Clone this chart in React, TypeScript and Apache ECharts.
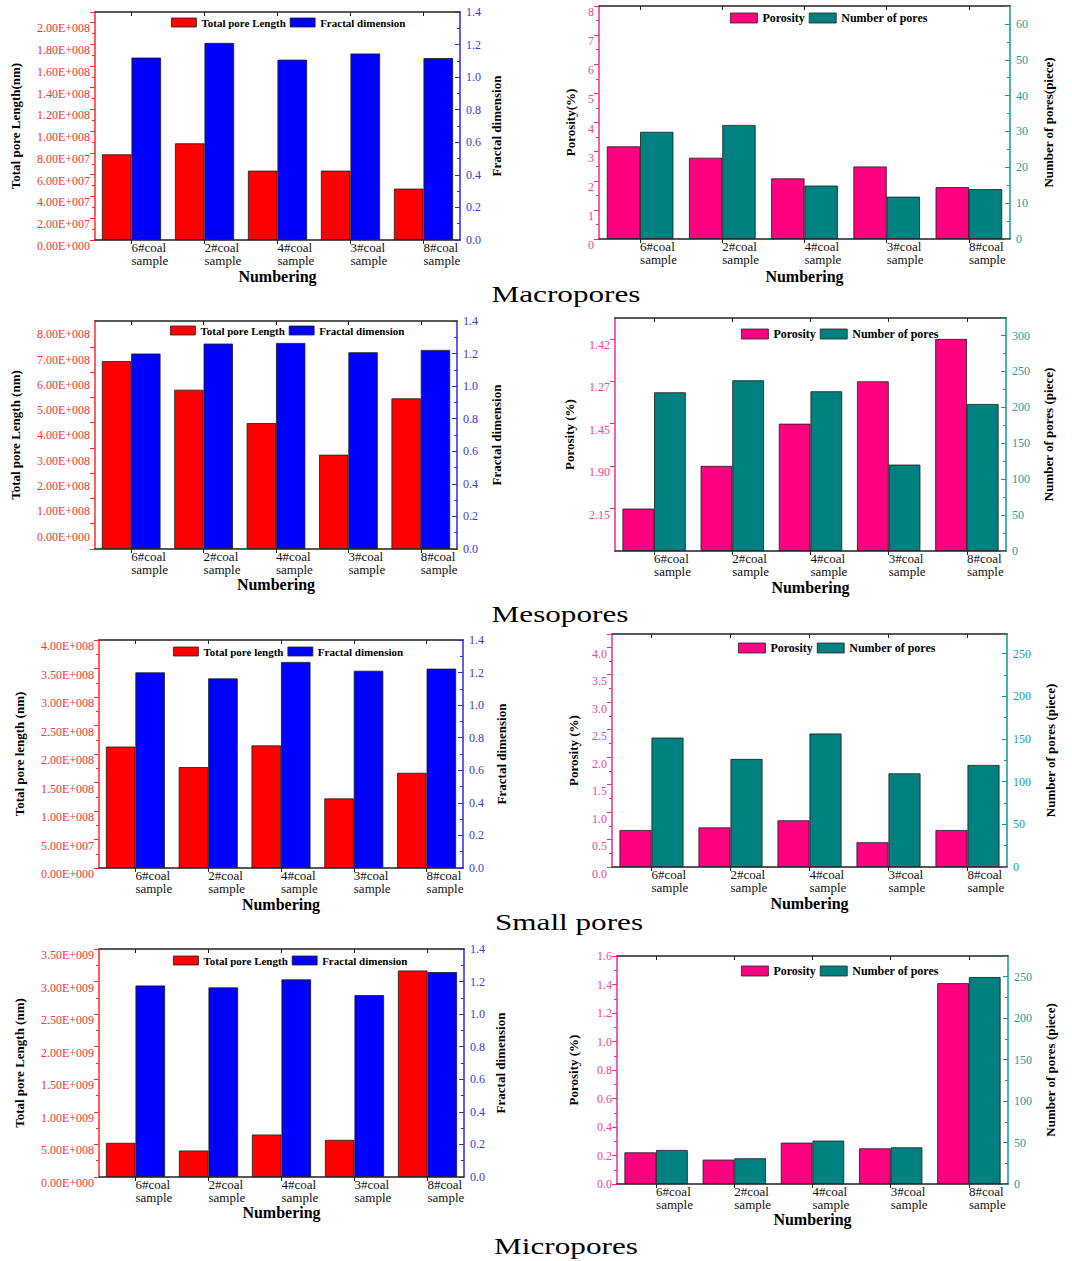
import React, { useEffect, useRef } from 'react';
import * as echarts from 'echarts';

// ---------- data ----------
const categories = ['6#coal\nsample', '2#coal\nsample', '4#coal\nsample', '3#coal\nsample', '8#coal\nsample'];

// Macropores
const macroLength = [7.87e7, 8.88e7, 6.37e7, 6.37e7, 4.72e7];
const macroFractal = [1.12, 1.21, 1.107, 1.145, 1.117];
const macroPorosity = [3.18, 2.79, 2.08, 2.49, 1.78];
const macroPores = [29.9, 31.8, 14.9, 11.8, 13.9];

// Mesopores
const mesoLength = [7.43e8, 6.3e8, 4.98e8, 3.73e8, 5.96e8];
const mesoLengthTicks = [0, 1e8, 2e8, 3e8, 4e8, 5e8, 6e8, 7e8, 8e8];
const mesoFractal = [1.2, 1.261, 1.265, 1.208, 1.222];
const mesoPorosity = [0.291, 0.584, 0.874, 1.165, 1.456];
const mesoPorosityTickValues = [0.291, 0.584, 0.874, 1.165, 1.456];
const mesoPorosityTickLabels = ['2.15', '1.90', '1.45', '1.27', '1.42'];
const mesoPores = [221, 237.7, 222.4, 120.3, 204.7];

// Small pores
const smallLength = [2.13e8, 1.77e8, 2.15e8, 1.22e8, 1.67e8];
const smallFractal = [1.201, 1.164, 1.265, 1.211, 1.224];
const smallPorosity = [0.673, 0.72, 0.85, 0.45, 0.673];
const smallPores = [151.6, 126.6, 156.4, 109.7, 119.5];

// Micropores
const microLength = [5.24e8, 4.06e8, 6.52e8, 5.7e8, 3.17e9];
const microFractal = [1.176, 1.164, 1.213, 1.117, 1.258];
const microPorosity = [0.222, 0.171, 0.29, 0.25, 1.409];
const microPores = [41, 31, 52.3, 44.2, 249.6];

const panelTitles = ['Macropores', 'Mesopores', 'Small pores', 'Micropores'];

// ---------- styles ----------
const FONT = '"Liberation Serif", "Times New Roman", Times, serif';
const RED = '#ff0000';
const BLUE = '#0000ff';
const PINK = '#ff0080';
const TEAL = '#008080';
const RED_AXIS = '#ff2a2a';
const RED_LABEL = '#f23636';
const BLUE_AXIS = '#2a2ae0';
const BLUE_LABEL = '#3a3ad6';
const PINK_AXIS = '#ec2f86';
const PINK_LABEL = '#f0468f';
const TEAL_AXIS = '#0f9a92';
const TEAL_LABEL = '#1a9e9a';

function sci(v: number): string {
  if (Math.abs(v) < 1e-9) return '0.00E+000';
  const e = Math.floor(Math.log10(Math.abs(v)) + 1e-9);
  const m = v / Math.pow(10, e);
  return m.toFixed(2) + 'E+' + String(e).padStart(3, '0');
}

function isMultiple(max: number, interval: number) {
  const r = max / interval;
  return Math.abs(r - Math.round(r)) < 1e-6;
}

interface VAxisOpt {
  gridIndex: number;
  position: 'left' | 'right';
  max: number;
  interval?: number;
  axisColor: string;
  labelColor: string;
  name: string;
  nameGap: number;
  shift: number;
  formatter: (v: number) => string;
  customValues?: number[];
  margin: number;
}

function valueAxis(o: VAxisOpt): any {
  const inside = o.position === 'right';
  const label: any = {
    show: true,
    color: o.labelColor,
    fontFamily: FONT,
    fontSize: 12,
    margin: o.margin,
    formatter: o.formatter,
    hideOverlap: false,
    showMinLabel: true,
  };
  // labels of the reference sit slightly off their ticks
  if (o.shift > 0) {
    label.verticalAlign = 'top';
    label.lineHeight = 2 * o.shift;
  } else if (o.shift < 0) {
    label.verticalAlign = 'bottom';
    label.lineHeight = -2 * o.shift;
  }
  const ax: any = {
    type: 'value',
    gridIndex: o.gridIndex,
    position: o.position,
    min: 0,
    max: o.max,
    name: o.name,
    nameLocation: 'middle',
    nameGap: o.nameGap,
    nameRotate: 90,
    nameMoveOverlap: false,
    nameTextStyle: { fontFamily: FONT, fontWeight: 'bold', fontSize: 13, color: '#000' },
    axisLine: { show: true, onZero: false, lineStyle: { color: o.axisColor, width: 1.5 } },
    axisTick: { show: true, inside, length: 5, lineStyle: { color: o.axisColor, width: 1 } },
    splitLine: { show: false },
    minorSplitLine: { show: false },
    axisLabel: label,
  };
  if (o.interval) {
    ax.interval = o.interval;
    ax.axisLabel.showMaxLabel = isMultiple(o.max, o.interval);
    ax.minorTick = { show: true, splitNumber: 2, length: 3, lineStyle: { color: o.axisColor, width: 1 } };
  }
  if (o.customValues) {
    ax.axisLabel.customValues = o.customValues;
    ax.axisLabel.showMaxLabel = true;
    ax.axisTick.customValues = o.customValues;
    ax.minorTick = { show: false };
  }
  return ax;
}

function catAxes(gridIndex: number, nameGap: number): any[] {
  return [
    {
      type: 'category',
      gridIndex,
      position: 'bottom',
      data: categories,
      boundaryGap: true,
      name: 'Numbering',
      nameLocation: 'middle',
      nameGap,
      nameMoveOverlap: false,
      nameTextStyle: { fontFamily: FONT, fontWeight: 'bold', fontSize: 16, color: '#000' },
      axisLine: { show: true, onZero: false, lineStyle: { color: '#222', width: 1.5 } },
      axisTick: { show: true, alignWithLabel: true, length: 4, lineStyle: { color: '#222' } },
      axisLabel: {
        interval: 0,
        align: 'left',
        color: '#111',
        fontFamily: FONT,
        fontSize: 13,
        lineHeight: 13,
        margin: 1,
      },
      splitLine: { show: false },
    },
    {
      type: 'category',
      gridIndex,
      position: 'top',
      data: categories,
      boundaryGap: true,
      axisLine: { show: true, onZero: false, lineStyle: { color: '#222', width: 1.5 } },
      axisTick: { show: true, inside: true, alignWithLabel: true, length: 4, lineStyle: { color: '#222' } },
      axisLabel: { show: false },
      splitLine: { show: false },
    },
  ];
}

function bar(name: string, xAxisIndex: number, yAxisIndex: number, data: number[], color: string): any {
  return {
    type: 'bar',
    name,
    xAxisIndex,
    yAxisIndex,
    data,
    barWidth: '40.5%',
    barGap: '0%',
    itemStyle: { color, borderColor: '#1a1a1a', borderWidth: 0.8 },
    emphasis: { disabled: true },
    silent: true,
  };
}

// ---------- layouts ----------
const lengthPanels: any[] = [
  {
    grid: { left: 95, top: 12, width: 365, height: 228 },
    max: 2.095e8, interval: 2e7, shift: 6,
    name: 'Total pore Length(nm)', legendName: 'Total pore Length',
    len: macroLength, frac: macroFractal,
    legend: { left: 171, top: 17 }, leftGap: 73.5, rightGap: 30, xGap: 28,
  },
  {
    grid: { left: 95, top: 321, width: 362, height: 228 },
    max: 9.02e8, interval: 1e8, shift: -12.5, ticks: mesoLengthTicks,
    name: 'Total pore Length (nm)', legendName: 'Total pore Length',
    len: mesoLength, frac: mesoFractal,
    legend: { left: 170, top: 325 }, leftGap: 73.5, rightGap: 33, xGap: 27.5,
  },
  {
    grid: { left: 99, top: 640, width: 364, height: 228 },
    max: 4e8, interval: 5e7, shift: 6,
    name: 'Total pore length (nm)', legendName: 'Total pore length',
    len: smallLength, frac: smallFractal,
    legend: { left: 173, top: 646 }, leftGap: 73, rightGap: 31.5, xGap: 28,
  },
  {
    grid: { left: 99, top: 949, width: 365, height: 228 },
    max: 3.5e9, interval: 5e8, shift: 6,
    name: 'Total pore Length (nm)', legendName: 'Total pore Length',
    len: microLength, frac: microFractal,
    legend: { left: 173, top: 955 }, leftGap: 73, rightGap: 29.5, xGap: 27.5,
  },
];

const porosityPanels: any[] = [
  {
    grid: { left: 599, top: 6, width: 411, height: 233 },
    max: 8, interval: 1, dec: 0, shift: 6, custom: false,
    name: 'Porosity(%)', poresName: 'Number of pores(piece)', poresMax: 65, poresInterval: 10,
    por: macroPorosity, pores: macroPores,
    legend: { left: 730, top: 12 }, leftGap: 22.5, rightGap: 31.5, xGap: 29,
  },
  {
    grid: { left: 615, top: 318, width: 391, height: 233 },
    max: 1.6, interval: 0, dec: 2, shift: 6, custom: true,
    name: 'Porosity (%)', poresName: 'Number of pores (piece)', poresMax: 324.5, poresInterval: 50,
    por: mesoPorosity, pores: mesoPores,
    legend: { left: 741, top: 328 }, leftGap: 39, rightGap: 36, xGap: 28.3,
  },
  {
    grid: { left: 612, top: 634, width: 395, height: 233 },
    max: 4.24, interval: 0.5, dec: 1, shift: 6.7, custom: false,
    name: 'Porosity (%)', poresName: 'Number of pores (piece)', poresMax: 273, poresInterval: 50,
    por: smallPorosity, pores: smallPores,
    legend: { left: 738, top: 642 }, leftGap: 32, rightGap: 36.5, xGap: 28.3,
  },
  {
    grid: { left: 617, top: 956, width: 391, height: 228 },
    max: 1.6, interval: 0.2, dec: 1, shift: 0, custom: false,
    name: 'Porosity (%)', poresName: 'Number of pores (piece)', poresMax: 275, poresInterval: 50,
    por: microPorosity, pores: microPores,
    legend: { left: 741, top: 965 }, leftGap: 37, rightGap: 35.5, xGap: 27.5,
  },
];

const titlePos = [
  { x: 566, y: 294 },
  { x: 560, y: 614 },
  { x: 569, y: 922 },
  { x: 566, y: 1246 },
];

function buildOption(): any {
  const grid: any[] = [];
  const xAxis: any[] = [];
  const yAxis: any[] = [];
  const series: any[] = [];
  const legend: any[] = [];

  lengthPanels.forEach((p) => {
    const gi = grid.length;
    grid.push({ ...p.grid, outerBoundsMode: 'none', containLabel: false });
    const xi = xAxis.length;
    xAxis.push(...catAxes(gi, p.xGap));
    const yi = yAxis.length;
    yAxis.push(
      valueAxis({
        gridIndex: gi, position: 'left', max: p.max, interval: p.interval,
        axisColor: RED_AXIS, labelColor: RED_LABEL, name: p.name, nameGap: p.leftGap,
        shift: p.shift, formatter: (v: number) => sci(v), margin: 5,
        customValues: p.ticks,
      }),
      valueAxis({
        gridIndex: gi, position: 'right', max: 1.4, interval: 0.2,
        axisColor: BLUE_AXIS, labelColor: BLUE_LABEL, name: 'Fractal dimension', nameGap: p.rightGap,
        shift: 0, formatter: (v: number) => v.toFixed(1), margin: 6,
      })
    );
    series.push(bar(p.legendName, xi, yi, p.len, RED));
    series.push(bar('Fractal dimension', xi, yi + 1, p.frac, BLUE));
    legend.push({
      data: [p.legendName, 'Fractal dimension'],
      left: p.legend.left, top: p.legend.top,
      orient: 'horizontal', icon: 'rect', itemWidth: 25, itemHeight: 9, itemGap: 4, padding: 0,
      selectedMode: false,
      itemStyle: { borderColor: '#222', borderWidth: 0.8 },
      textStyle: { fontFamily: FONT, fontWeight: 'bold', fontSize: 11, color: '#000' },
    });
  });

  porosityPanels.forEach((p) => {
    const gi = grid.length;
    grid.push({ ...p.grid, outerBoundsMode: 'none', containLabel: false });
    const xi = xAxis.length;
    xAxis.push(...catAxes(gi, p.xGap));
    const yi = yAxis.length;
    const leftOpt: VAxisOpt = {
      gridIndex: gi, position: 'left', max: p.max,
      axisColor: PINK_AXIS, labelColor: PINK_LABEL, name: p.name, nameGap: p.leftGap,
      shift: p.shift, margin: 5,
      formatter: (v: number) => v.toFixed(p.dec),
    };
    if (p.custom) {
      leftOpt.customValues = mesoPorosityTickValues;
      leftOpt.formatter = (v: number) => {
        let best = 0;
        let bd = Infinity;
        mesoPorosityTickValues.forEach((t, i) => {
          const d = Math.abs(t - v);
          if (d < bd) { bd = d; best = i; }
        });
        return mesoPorosityTickLabels[best];
      };
    } else {
      leftOpt.interval = p.interval;
    }
    yAxis.push(
      valueAxis(leftOpt),
      valueAxis({
        gridIndex: gi, position: 'right', max: p.poresMax, interval: p.poresInterval,
        axisColor: TEAL_AXIS, labelColor: TEAL_LABEL, name: p.poresName, nameGap: p.rightGap,
        shift: 0, formatter: (v: number) => String(Math.round(v)), margin: 6,
      })
    );
    series.push(bar('Porosity', xi, yi, p.por, PINK));
    series.push(bar('Number of pores', xi, yi + 1, p.pores, TEAL));
    legend.push({
      data: ['Porosity', 'Number of pores'],
      left: p.legend.left, top: p.legend.top,
      orient: 'horizontal', icon: 'rect', itemWidth: 27, itemHeight: 10, itemGap: 4, padding: 0,
      selectedMode: false,
      itemStyle: { borderColor: '#222', borderWidth: 0.8 },
      textStyle: { fontFamily: FONT, fontWeight: 'bold', fontSize: 12, color: '#000' },
    });
  });

  const graphic = panelTitles.map((t, i) => ({
    type: 'text',
    x: titlePos[i].x,
    y: titlePos[i].y,
    scaleX: 1.3,
    silent: true,
    style: {
      text: t,
      fontFamily: FONT,
      fontSize: 24,
      fill: '#000',
      align: 'center',
      verticalAlign: 'middle',
    },
  }));

  return {
    animation: false,
    backgroundColor: '#ffffff',
    textStyle: { fontFamily: FONT },
    tooltip: { show: false },
    grid,
    xAxis,
    yAxis,
    series,
    legend,
    graphic,
  };
}

export default function App() {
  const ref = useRef<HTMLDivElement>(null);
  useEffect(() => {
    if (!ref.current) return;
    const chart = echarts.init(ref.current, null, { renderer: 'svg', width: 1072, height: 1261 });
    chart.setOption(buildOption());
    return () => {
      chart.dispose();
    };
  }, []);
  return (
    <div
      ref={ref}
      style={{ position: 'absolute', left: 0, top: 0, width: 1072, height: 1261, background: '#fff' }}
    />
  );
}
